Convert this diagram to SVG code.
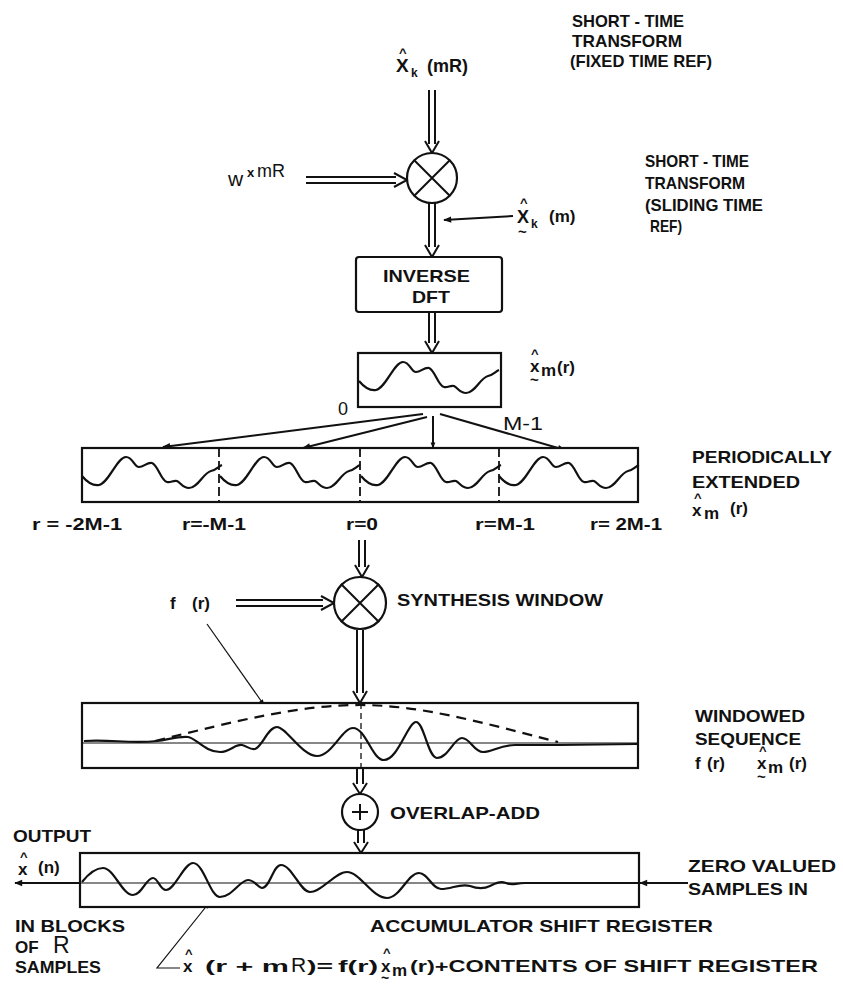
<svg xmlns="http://www.w3.org/2000/svg" width="843" height="986" viewBox="0 0 843 986">
<style>
.t{font-family:"Liberation Sans",Arial,sans-serif;font-size:17px;font-weight:bold;fill:#111}
.r{font-size:16px}
.sb{font-size:12px}
.hat{font-size:13px}
.ln{fill:none;stroke:#111;stroke-width:2}
.dbl{fill:none;stroke:#111;stroke-width:2;stroke-linejoin:miter}
.box{fill:#fff;stroke:#111;stroke-width:2.2}
.wv{fill:none;stroke:#111;stroke-width:2.2;stroke-linejoin:round}
.dash{fill:none;stroke:#111;stroke-width:1.8;stroke-dasharray:7 5}
.thin{fill:none;stroke:#111;stroke-width:1.2}
</style>
<defs>
<marker id="ah" viewBox="0 0 10 10" refX="9" refY="5" markerWidth="7" markerHeight="6" orient="auto" markerUnits="userSpaceOnUse">
<path d="M0,1 L10,5 L0,9 Z" fill="#111"/>
</marker>
<marker id="ah2" viewBox="0 0 10 10" refX="9" refY="5" markerWidth="10" markerHeight="8" orient="auto" markerUnits="userSpaceOnUse">
<path d="M0,1 L10,5 L0,9 Z" fill="#111"/>
</marker>
<path id="wave" d="M1,28 C6,34 12,38 18,37 C28,35 36,9 45,9 C52,9 53,19 58,19 C63,19 66,14 71,15 C77,17 80,33 86,34 C90,35 92,32 96,33 C100,35 102,40 108,40 C117,40 122,25 130,23 C135,22 138,18 141,17"/>
</defs>
<rect width="843" height="986" fill="#fff"/>

<g id="connectors">
<path class="dbl" d="M429,90V144 M435,90V144 M425,141 L432,153 L439,141"/>
<path class="dbl" d="M306,177H396 M306,183H396 M394,173 L407,180 L394,187"/>
<path class="dbl" d="M429,203V247 M435,203V247 M425,245 L432,257 L439,245"/>
<line class="ln" x1="513" y1="216" x2="444" y2="220" marker-end="url(#ah2)"/>
<path class="dbl" d="M429,312V343 M435,312V343 M425,341 L432,353 L439,341"/>
<line class="ln" x1="423" y1="414" x2="163" y2="447" marker-end="url(#ah2)"/>
<line class="ln" x1="427" y1="417" x2="303" y2="448" marker-end="url(#ah2)"/>
<line class="ln" x1="433" y1="416" x2="433" y2="448" marker-end="url(#ah)"/>
<line class="ln" x1="440" y1="414" x2="565" y2="450" marker-end="url(#ah2)"/>
<path class="dbl" d="M359,540V567 M365,540V567 M355,565 L362,577 L369,565"/>
<path class="dbl" d="M236,600H323 M236,606H323 M321,596 L334,603 L321,610"/>
<path class="dbl" d="M357,630V693 M363,630V693 M353,691 L360,703 L367,691"/>
<line class="thin" x1="207" y1="624" x2="264" y2="705" marker-end="url(#ah)"/>
<path class="dbl" d="M357,768V784 M363,768V784 M353,783 L360,794 L367,783"/>
<path class="dbl" d="M358,830V843 M364,830V843 M354,842 L361,853 L368,842"/>
<line class="ln" x1="80" y1="883" x2="15" y2="883" marker-end="url(#ah2)"/>
<line class="ln" x1="688" y1="883" x2="640" y2="883" marker-end="url(#ah2)"/>
<path class="thin" d="M180,968 H157 L209,903" marker-end="url(#ah)"/>
</g>

<g id="input-label">
<text class="t"><tspan x="396" y="72" style="font-size:19px">X</tspan><tspan class="hat" x="399" y="57">^</tspan><tspan class="sb" x="411" y="77">k</tspan><tspan x="427" y="72" style="font-size:18px">(mR)</tspan></text>
</g>
<g id="fixed-label">
<text class="t" x="572" y="27" textLength="112" lengthAdjust="spacingAndGlyphs">SHORT - TIME</text>
<text class="t" x="572" y="47" textLength="110" lengthAdjust="spacingAndGlyphs">TRANSFORM</text>
<text class="t" x="570" y="67" textLength="142" lengthAdjust="spacingAndGlyphs">(FIXED TIME REF)</text>
</g>

<g id="mult1">
<circle class="box" cx="432" cy="178" r="25"/>
<path class="ln" d="M414,160 L450,196 M450,160 L414,196"/>
</g>
<g id="w-label">
<text class="t"><tspan x="228" y="186" style="font-size:21px;font-weight:normal">w</tspan><tspan x="247" y="177" style="font-size:13px">x</tspan><tspan x="257" y="177" style="font-size:18px;font-weight:normal">mR</tspan></text>
</g>

<g id="sliding-label">
<text class="t"><tspan x="517" y="223" style="font-size:18px">X</tspan><tspan class="hat" x="520" y="207">^</tspan><tspan x="518" y="237" style="font-size:15px">~</tspan><tspan class="sb" x="531" y="228">k</tspan><tspan x="549" y="222" style="font-size:17px">(m)</tspan></text>
<text class="t" x="645" y="167" textLength="104" lengthAdjust="spacingAndGlyphs">SHORT - TIME</text>
<text class="t" x="645" y="189" textLength="100" lengthAdjust="spacingAndGlyphs">TRANSFORM</text>
<text class="t" x="645" y="211" textLength="118" lengthAdjust="spacingAndGlyphs">(SLIDING TIME</text>
<text class="t" x="650" y="232" textLength="32" lengthAdjust="spacingAndGlyphs">REF)</text>
</g>

<g id="idft">
<rect class="box" x="356" y="257" width="146" height="55" rx="3"/>
<text class="t" x="383" y="282" textLength="87" lengthAdjust="spacingAndGlyphs">INVERSE</text>
<text class="t" x="412" y="303" textLength="38" lengthAdjust="spacingAndGlyphs">DFT</text>
</g>

<g id="xm-box">
<rect class="box" x="358" y="353" width="143" height="54"/>
<use href="#wave" x="358" y="353" class="wv"/>
<text class="t"><tspan x="530" y="372">x</tspan><tspan class="hat" x="531" y="358">^</tspan><tspan x="530" y="385" style="font-size:15px">~</tspan><tspan x="541" y="376">m</tspan><tspan x="557" y="373">(r)</tspan></text>
<text class="t" x="338" y="415" style="font-weight:normal;font-size:18px">0</text>
<text class="t" x="503" y="430" textLength="40" lengthAdjust="spacingAndGlyphs" style="font-size:18px;font-weight:normal">M-1</text>
</g>

<g id="periodic">
<rect class="box" x="82" y="448" width="556" height="54"/>
<g class="wv">
<use href="#wave" x="81" y="448"/>
<use href="#wave" x="219" y="448"/>
<use href="#wave" x="360" y="448"/>
<use href="#wave" x="498" y="448"/>
</g>
<path class="dash" d="M219,448V502 M360,448V502 M499,448V502" style="stroke-dasharray:9 4"/>
<text class="t r" x="32" y="530" textLength="90" lengthAdjust="spacingAndGlyphs">r = -2M-1</text>
<text class="t r" x="182" y="530" textLength="64" lengthAdjust="spacingAndGlyphs">r=-M-1</text>
<text class="t r" x="346" y="530" textLength="32" lengthAdjust="spacingAndGlyphs">r=0</text>
<text class="t r" x="475" y="530" textLength="60" lengthAdjust="spacingAndGlyphs">r=M-1</text>
<text class="t r" x="590" y="530" textLength="72" lengthAdjust="spacingAndGlyphs">r= 2M-1</text>
<text class="t" x="692" y="463" textLength="140" lengthAdjust="spacingAndGlyphs">PERIODICALLY</text>
<text class="t" x="692" y="488" textLength="108" lengthAdjust="spacingAndGlyphs">EXTENDED</text>
<text class="t"><tspan x="692" y="516">x</tspan><tspan class="hat" x="694" y="502">^</tspan><tspan x="704" y="519">m</tspan><tspan x="730" y="514">(r)</tspan></text>
</g>

<g id="mult2">
<circle class="box" cx="360" cy="603" r="26"/>
<path class="ln" d="M341,584 L379,622 M379,584 L341,622"/>
<text class="t" x="397" y="606" textLength="206" lengthAdjust="spacingAndGlyphs">SYNTHESIS WINDOW</text>
</g>
<g id="f-label">
<text class="t"><tspan x="170" y="609">f</tspan><tspan x="192" y="609">(r)</tspan></text>
</g>

<g id="windowed">
<rect class="box" x="82" y="703" width="556" height="65"/>
<line class="thin" x1="82" y1="743" x2="638" y2="743"/>
<line class="dash" x1="361" y1="703" x2="361" y2="768" style="stroke-width:1.3;stroke-dasharray:6 4"/>
<path class="dash" d="M155,741 C240,720 300,705 360,705 C420,705 480,722 558,742" style="stroke-width:2.2;stroke-dasharray:10 7"/>
<path class="wv" d="M84,741 C110,739 130,744 157,741 C170,739 180,736 188,737 C196,738 205,752 220,752 C230,752 235,744 242,745 C247,746 250,750 255,749 C262,747 268,727 277,727 C286,727 302,756 317,756 C332,756 342,728 353,728 C366,728 372,760 384,760 C398,760 408,722 416,722 C424,722 428,758 437,758 C448,758 454,738 462,738 C470,738 474,752 483,752 C492,752 500,745 515,745 L560,745 L637,744"/>
<text class="t" x="695" y="722" textLength="110" lengthAdjust="spacingAndGlyphs">WINDOWED</text>
<text class="t" x="695" y="745" textLength="106" lengthAdjust="spacingAndGlyphs">SEQUENCE</text>
<text class="t"><tspan x="695" y="769">f</tspan><tspan x="707" y="769">(r)</tspan><tspan x="757" y="769">x</tspan><tspan class="hat" x="759" y="755">^</tspan><tspan x="757" y="782" style="font-size:15px">~</tspan><tspan x="768" y="773">m</tspan><tspan x="789" y="769">(r)</tspan></text>
</g>

<g id="adder">
<circle class="box" cx="360" cy="812" r="18"/>
<path class="ln" d="M352,812 H368 M360,804 V820"/>
<text class="t" x="390" y="819" textLength="150" lengthAdjust="spacingAndGlyphs">OVERLAP-ADD</text>
</g>

<g id="accumulator">
<rect class="box" x="80" y="853" width="559" height="54"/>
<line class="thin" x1="80" y1="883" x2="639" y2="883"/>
<path class="wv" d="M82,882 C90,872 96,868 103,868 C114,868 122,895 133,895 C142,895 146,878 153,878 C158,878 160,890 166,890 C175,890 184,863 193,863 C204,863 210,897 220,897 C232,897 240,880 248,880 C255,880 258,888 262,888 C270,888 273,865 281,865 C292,865 300,892 310,892 C322,892 335,872 347,872 C360,872 372,898 387,898 C400,898 408,873 419,873 C428,873 432,889 441,889 C452,889 460,883 470,886 C478,889 484,889 490,886 C496,883 500,881 506,883 C512,886 515,883 525,883 L639,883"/>
<text class="t" x="370" y="932" textLength="343" lengthAdjust="spacingAndGlyphs">ACCUMULATOR SHIFT REGISTER</text>
</g>
<g id="output-label">
<text class="t" x="13" y="842" textLength="78" lengthAdjust="spacingAndGlyphs">OUTPUT</text>
<text class="t"><tspan x="18" y="875">x</tspan><tspan class="hat" x="20" y="861">^</tspan><tspan x="38" y="873">(n)</tspan></text>
<text class="t" x="15" y="932" textLength="110" lengthAdjust="spacingAndGlyphs">IN BLOCKS</text>
<text class="t"><tspan x="15" y="953">OF</tspan><tspan x="53" y="953" style="font-size:23px;font-weight:normal">R</tspan></text>
<text class="t" x="15" y="973" textLength="86" lengthAdjust="spacingAndGlyphs">SAMPLES</text>
</g>
<g id="input-zero">
<text class="t" x="688" y="872" textLength="148" lengthAdjust="spacingAndGlyphs">ZERO VALUED</text>
<text class="t" x="688" y="895" textLength="120" lengthAdjust="spacingAndGlyphs">SAMPLES IN</text>
</g>
<g id="formula">
<text class="t"><tspan x="183" y="972">x</tspan><tspan class="hat" x="185" y="958">^</tspan><tspan x="205" y="972" textLength="84" lengthAdjust="spacingAndGlyphs">(r + m</tspan><tspan x="291" y="972" style="font-size:21px;font-weight:normal">R</tspan><tspan x="307" y="972" textLength="26" lengthAdjust="spacingAndGlyphs">)=</tspan><tspan x="338" y="972" textLength="40" lengthAdjust="spacingAndGlyphs">f(r)</tspan><tspan x="381" y="972">x</tspan><tspan class="hat" x="383" y="957">^</tspan><tspan x="381" y="983" style="font-size:14px">~</tspan><tspan x="392" y="976">m</tspan><tspan x="410" y="972" textLength="408" lengthAdjust="spacingAndGlyphs">(r)+CONTENTS OF SHIFT REGISTER</tspan></text>
</g>
</svg>
